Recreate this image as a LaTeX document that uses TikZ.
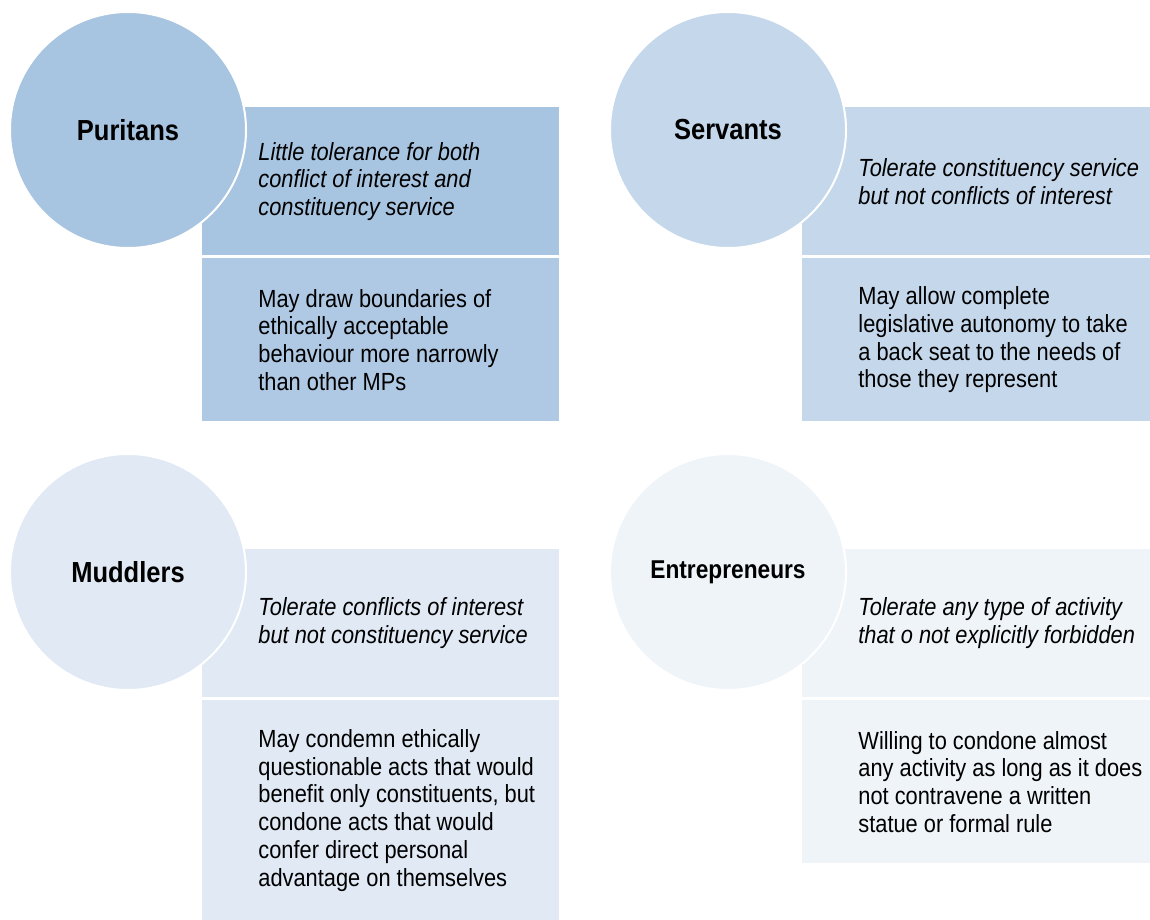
\documentclass[tikz,border=0pt]{standalone}
\usepackage{fontspec}
\setmainfont{Liberation Sans}[FakeStretch=0.88]
\usetikzlibrary{positioning}

\definecolor{puriblue}{HTML}{A7C4E0}
\definecolor{puriblueb}{HTML}{AFC9E4}
\definecolor{servblue}{HTML}{C4D7EB}
\definecolor{muddblue}{HTML}{E0E9F4}
\definecolor{entrblue}{HTML}{EFF4F9}

\tikzset{
  blob/.style={circle, draw=white, line width=1pt, minimum size=118pt, inner sep=0pt,
    font=\bfseries\fontsize{14.5}{17}\selectfont},
  panel/.style={rectangle, anchor=north west, inner sep=0pt, draw=none},
  blurb/.style={anchor=west, align=left, inner sep=0pt,
    font=\fontsize{12.4}{13.85}\selectfont},
  slant/.style={blurb, font=\itshape\fontsize{12.4}{13.85}\selectfont},
}

\begin{document}
\begin{tikzpicture}[x=0.5pt, y=-0.5pt]
\useasboundingbox (0,0) rectangle (1150,920);

\def\xleft{202};
\def\xright{802};
\def\ytop{107};
\def\ybot{549};

% Puritans
\node[panel, fill=puriblue, minimum width=178.5pt, minimum height=74pt] (pa) at (\xleft, \ytop) {};
\node[panel, fill=puriblueb, minimum width=178.5pt, minimum height=81.5pt] (pb) at (\xleft, \ytop + 151) {};
\node[blob, fill=puriblue] (puri) at (128, 130) {Puritans};
\node[slant] (pat) at ([xshift=28pt]pa.west) {Little tolerance for both\\conflict of interest and\\constituency service};
\node[blurb] (pbt) at ([xshift=28pt]pb.west) {May draw boundaries of\\ethically acceptable\\behaviour more narrowly\\than other MPs};

% Servants
\node[panel, fill=servblue, minimum width=174pt, minimum height=74pt] (sa) at (\xright, \ytop) {};
\node[panel, fill=servblue, minimum width=174pt, minimum height=81.5pt] (sb) at (\xright, \ytop + 151) {};
\node[blob, fill=servblue] (serv) at (728, 130) {Servants};
\node[slant] (sat) at ([xshift=28pt]sa.west) {Tolerate constituency service\\but not conflicts of interest};
\node[blurb] (sbt) at ([xshift=28pt]sb.west) {May allow complete\\legislative autonomy to take\\a back seat to the needs of\\those they represent};

% Muddlers
\node[panel, fill=muddblue, minimum width=178.5pt, minimum height=74pt] (ma) at (\xleft, \ybot) {};
\node[panel, fill=muddblue, minimum width=178.5pt, minimum height=110pt] (mb) at (\xleft, \ybot + 151) {};
\node[blob, fill=muddblue] (mudd) at (128, 572) {Muddlers};
\node[slant] (mat) at ([xshift=28pt]ma.west) {Tolerate conflicts of interest\\but not constituency service};
\node[blurb] (mbt) at ([xshift=28pt]mb.west) {May condemn ethically\\questionable acts that would\\benefit only constituents, but\\condone acts that would\\confer direct personal\\advantage on themselves};

% Entrepreneurs
\node[panel, fill=entrblue, minimum width=174pt, minimum height=74pt] (ea) at (\xright, \ybot) {};
\node[panel, fill=entrblue, minimum width=174pt, minimum height=81.5pt] (eb) at (\xright, \ybot + 151) {};
\node[blob, fill=entrblue, font=\bfseries\fontsize{12.9}{15}\selectfont] (entr) at (728, 572) {Entrepreneurs};
\node[slant] (eat) at ([xshift=28pt]ea.west) {Tolerate any type of activity\\that o not explicitly forbidden};
\node[blurb] (ebt) at ([xshift=28pt]eb.west) {Willing to condone almost\\any activity as long as it does\\not contravene a written\\statue or formal rule};

\end{tikzpicture}
\end{document}
